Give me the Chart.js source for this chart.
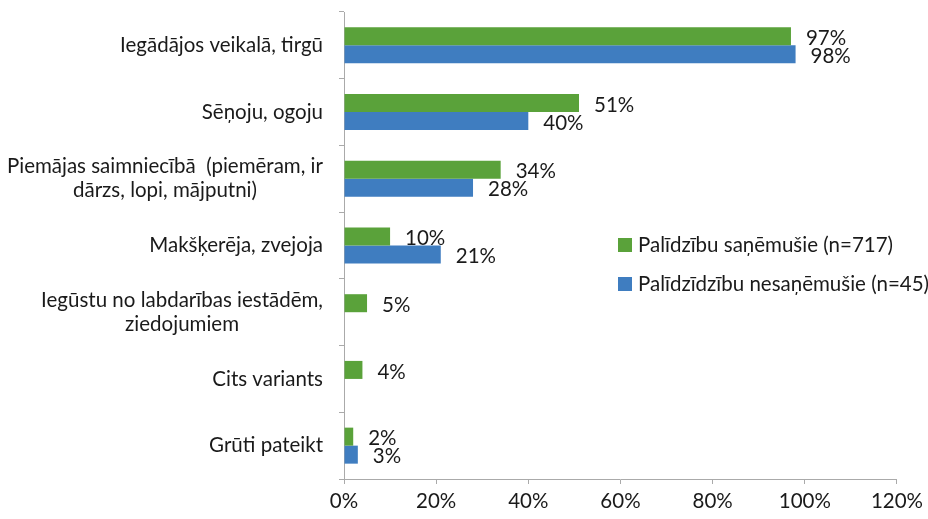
<!DOCTYPE html>
<html>
<head>
<meta charset="utf-8">
<script src="https://cdn.jsdelivr.net/npm/chart.js@4.4.1/dist/chart.umd.min.js"></script>
<style>
  html, body { margin: 0; padding: 0; background: #fff; }
  #wrap { width: 928px; height: 519px; }
</style>
</head>
<body>
<div id="wrap"><canvas id="foodChart" width="928" height="519"></canvas></div>
<script>
const categories = [
    ['Iegādājos veikalā, tirgū'],
    ['Sēņoju, ogoju'],
    ['Piemājas saimniecībā  (piemēram, ir', 'dārzs, lopi, mājputni)'],
    ['Makšķerēja, zvejoja'],
    ['Iegūstu no labdarības iestādēm,', 'ziedojumiem'],
    ['Cits variants'],
    ['Grūti pateikt']
];
const receivedValues = [97, 51, 34, 10, 5, 4, 2];
const notReceivedValues = [98, 40, 28, 21, null, null, 3];
const seriesNames = ['Palīdzību saņēmušie (n=717)', 'Palīdzīdzību nesaņēmušie (n=45)'];
const xTicks = [0, 20, 40, 60, 80, 100, 120];

const FONT = 'Lato, "Open Sans", sans-serif';
const SIZE = 20.5;
const TEXT = '#1a1a1a';

// value labels next to bar ends
const valueLabels = {
    id: 'valueLabels',
    afterDatasetsDraw(chart) {
        const c = chart.ctx;
        c.save();
        c.font = SIZE + 'px ' + FONT;
        c.fillStyle = TEXT;
        c.textAlign = 'left';
        c.textBaseline = 'middle';
        chart.data.datasets.forEach((ds, di) => {
            chart.getDatasetMeta(di).data.forEach((bar, i) => {
                const v = ds.data[i];
                if (v === null) return;
                c.fillText(v + '%', bar.x + 15, bar.y + 2);
            });
        });
        c.restore();
    }
};

// category labels: block right-aligned, lines centred inside block
const categoryLabels = {
    id: 'categoryLabels',
    afterDraw(chart) {
        const c = chart.ctx;
        const y = chart.scales.y;
        const right = chart.chartArea.left - 21;
        const lh = 24;
        c.save();
        c.font = SIZE + 'px ' + FONT;
        c.fillStyle = TEXT;
        c.textAlign = 'center';
        c.textBaseline = 'middle';
        categories.forEach((lines, i) => {
            const w = Math.max(...lines.map(l => c.measureText(l).width));
            const cx = right - w / 2;
            const cy = y.getPixelForValue(i) - (lines.length - 1) * lh / 2;
            lines.forEach((l, k) => c.fillText(l, cx, cy + k * lh));
        });
        c.restore();
    }
};

// legend drawn inside the plot, right side
const insideLegend = {
    id: 'insideLegend',
    afterDraw(chart) {
        const c = chart.ctx;
        const a = chart.chartArea;
        const x = a.left + 274;
        const ys = [a.top + 233, a.top + 272];
        c.save();
        c.font = SIZE + 'px ' + FONT;
        c.textBaseline = 'middle';
        c.textAlign = 'left';
        chart.data.datasets.forEach((ds, i) => {
            c.fillStyle = ds.backgroundColor;
            c.fillRect(x, ys[i] - 7, 14, 14);
            c.fillStyle = TEXT;
            c.fillText(ds.label, x + 20, ys[i]);
        });
        c.restore();
    }
};

const ctx = document.getElementById('foodChart').getContext('2d');
const foodChart = new Chart(ctx, {
    type: 'bar',
    data: {
        labels: categories,
        datasets: [{
            label: seriesNames[0],
            data: receivedValues,
            backgroundColor: '#5aa23a',
            categoryPercentage: 0.54,
            barPercentage: 1.0
        }, {
            label: seriesNames[1],
            data: notReceivedValues,
            backgroundColor: '#3f7dc0',
            categoryPercentage: 0.54,
            barPercentage: 1.0
        }]
    },
    options: {
        indexAxis: 'y',
        responsive: false,
        animation: false,
        layout: { padding: { top: 12, right: 27, left: 0, bottom: 0 } },
        plugins: {
            legend: { display: false },
            tooltip: { enabled: false }
        },
        scales: {
            x: {
                min: 0,
                max: 120,
                afterBuildTicks(scale) {
                    scale.ticks = xTicks.map(v => ({ value: v }));
                },
                afterFit(scale) { scale.height = 40; },
                grid: { drawOnChartArea: false, tickLength: 5, color: '#aaa' },
                border: { color: '#aaa' },
                ticks: {
                    padding: 5,
                    color: TEXT,
                    font: { family: FONT, size: SIZE },
                    callback: v => v + '%'
                }
            },
            y: {
                afterFit(scale) { scale.width = 344; },
                grid: { drawOnChartArea: false, tickLength: 5, color: '#aaa', offset: true },
                border: { color: '#aaa' },
                ticks: { display: false }
            }
        }
    },
    plugins: [valueLabels, categoryLabels, insideLegend]
});
</script>
</body>
</html>
